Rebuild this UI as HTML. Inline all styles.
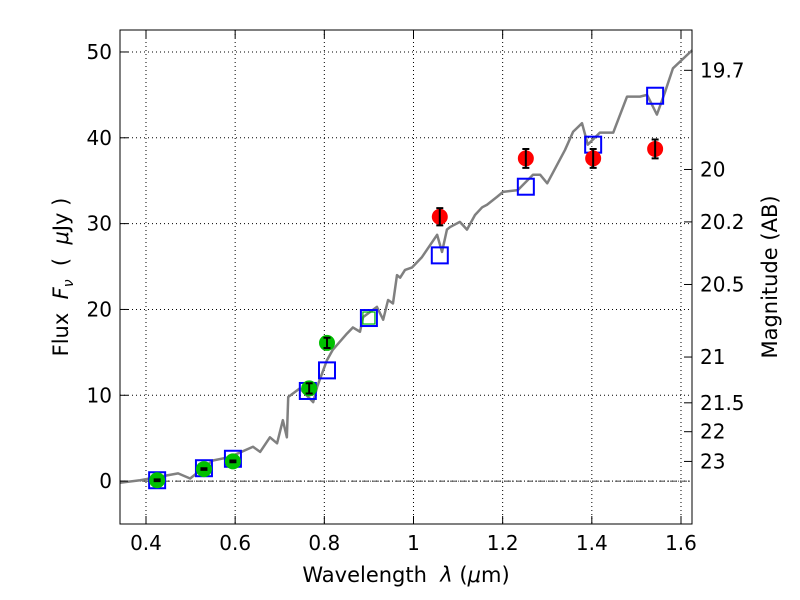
<!DOCTYPE html>
<html><head><meta charset="utf-8"><style>
body{margin:0;background:#fff}
svg{display:block;font-family:"DejaVu Sans","Liberation Sans",sans-serif}
</style></head><body>
<svg id="chart" width="800" height="600">
<rect width="800" height="600" fill="#fff"/>
<g id="grid"></g><g id="marks"></g><g id="axes"></g>
<text x="406" y="582" font-size="21" text-anchor="middle">Wavelength&#160;&#160;<tspan font-style="italic">λ</tspan> (<tspan font-style="italic">μ</tspan>m)</text>
<text transform="translate(68,277) rotate(-90)" font-size="21" text-anchor="middle">Flux&#160;&#160;<tspan font-style="italic">F</tspan><tspan font-style="italic" font-size="14" dy="5">ν</tspan><tspan dy="-5">&#160;&#160;(&#160;&#160;</tspan><tspan font-style="italic">μ</tspan>Jy )</text>
<text transform="translate(777,277) rotate(-90)" font-size="21" text-anchor="middle">Magnitude (AB)</text>
</svg>
<script>
const specWl=[0.342,0.387,0.472,0.499,0.550,0.588,0.640,0.656,0.678,0.694,0.707,0.716,0.719,0.745,0.775,0.784,0.806,0.819,0.851,0.864,0.880,0.887,0.918,0.932,0.943,0.954,0.963,0.970,0.981,0.997,1.019,1.053,1.064,1.075,1.082,1.104,1.120,1.138,1.154,1.165,1.187,1.201,1.234,1.268,1.284,1.300,1.340,1.358,1.378,1.391,1.418,1.448,1.479,1.508,1.524,1.546,1.564,1.582,1.625];
const specFlux=[-0.2,0.1,0.9,0.3,2.4,2.8,4.0,3.4,5.1,4.4,7.1,5.1,9.8,10.8,9.2,11.0,14.1,15.3,17.2,17.9,17.4,19.1,20.3,18.8,21.1,20.7,24.0,23.7,24.6,24.9,26.1,28.7,26.7,29.3,29.6,30.2,29.3,31.0,31.9,32.2,33.1,33.7,33.9,35.7,35.7,34.7,38.6,40.7,41.7,39.2,40.6,40.6,44.8,44.8,45.0,42.7,45.3,48.1,50.2];
const greenWl=[0.425,0.530,0.595,0.766,0.806];
const greenFlux=[0.1,1.4,2.3,10.8,16.1];
const greenErr=[0.1,0.1,0.1,0.6,0.6];
const redWl=[1.059,1.252,1.403,1.542];
const redFlux=[30.8,37.6,37.6,38.7];
const redErr=[1.0,1.1,1.1,1.1];
const modelWl=[0.425,0.530,0.595,0.763,0.806,0.900,1.059,1.252,1.403,1.542];
const modelFlux=[0.1,1.5,2.6,10.5,12.9,19.0,26.3,34.3,39.2,44.9];
const xTicks=[0.4,0.6,0.8,1.0,1.2,1.4,1.6];
const xTickLabels=["0.4","0.6","0.8","1","1.2","1.4","1.6"];
const yTicks=[0,10,20,30,40,50];
const magTicks=[19.7,20,20.2,20.5,21,21.5,22,23];
const magLabels=["19.7","20","20.2","20.5","21","21.5","22","23"];

const L=120,R=692,T=30,B=524;
const x0=0.3417,x1=1.6247,y0=-5.0,y1=52.56;
const sx=v=>L+(v-x0)/(x1-x0)*(R-L);
const sy=v=>B-(v-y0)/(y1-y0)*(B-T);
const NS="http://www.w3.org/2000/svg";
function mk(parent,tag,attrs){const e=document.createElementNS(NS,tag);for(const k in attrs)e.setAttribute(k,attrs[k]);parent.appendChild(e);return e;}
const grid=document.getElementById('grid'),marks=document.getElementById('marks'),axes=document.getElementById('axes');

xTicks.forEach(t=>{const g=mk(grid,'line',{x1:sx(t),x2:sx(t),y1:T,y2:B,stroke:'#000','stroke-width':1,'stroke-dasharray':'1,3'});

});
yTicks.forEach(t=>{const g=mk(grid,'line',{x1:L,x2:R,y1:sy(t),y2:sy(t),stroke:'#000','stroke-width':1,'stroke-dasharray':'1,3'});

});
const zl=mk(grid,'line',{x1:L,x2:R,y1:sy(0),y2:sy(0),stroke:'#000','stroke-width':0.8,'stroke-dasharray':'6,2,1,2'});



const sp=mk(marks,'polyline',{points:specWl.map((w,i)=>sx(w)+','+sy(specFlux[i])).join(' '),fill:'none',stroke:'#808080','stroke-width':2.5,'stroke-linejoin':'round'});



modelWl.forEach((w,i)=>{const r=mk(marks,'rect',{x:sx(w)-8,y:sy(modelFlux[i])-8,width:16,height:16,fill:'none',stroke:'#0000ff','stroke-width':2});

});
const gs=mk(marks,'rect',{x:sx(modelWl[5])-6,y:sy(modelFlux[5])-6,width:12,height:12,fill:'none',stroke:'#00bb00','stroke-width':1.2});



function pts(wl,fl,er,col,name){wl.forEach((w,i)=>{const cx=sx(w),cy=sy(fl[i]);
 const c=mk(marks,'circle',{cx:cx,cy:cy,r:8,fill:col});
 
 
 const ya=sy(fl[i]+er[i]),yb=sy(fl[i]-er[i]);
 const e=mk(marks,'path',{d:`M${cx},${ya}V${yb}M${cx-3.5},${ya}H${cx+3.5}M${cx-3.5},${yb}H${cx+3.5}`,stroke:'#000','stroke-width':2,fill:'none'});
 
 });}
pts(greenWl,greenFlux,greenErr,'#00c000','optical-flux-point');
pts(redWl,redFlux,redErr,'#ff0000','nir-flux-point');

const fr=mk(axes,'rect',{x:L,y:T,width:R-L,height:B-T,fill:'none',stroke:'#000','stroke-width':1});


xTicks.forEach((t,i)=>{mk(axes,'line',{x1:sx(t),x2:sx(t),y1:B,y2:B-8,stroke:'#000'});mk(axes,'line',{x1:sx(t),x2:sx(t),y1:T,y2:T+8,stroke:'#000'});
 const tx=mk(axes,'text',{x:sx(t),y:B+26,'font-size':20,'text-anchor':'middle'});tx.textContent=xTickLabels[i];
 
 });
yTicks.forEach(t=>{mk(axes,'line',{x1:L,x2:L+8,y1:sy(t),y2:sy(t),stroke:'#000'});
 const tx=mk(axes,'text',{x:L-8,y:sy(t)+7,'font-size':20,'text-anchor':'end'});tx.textContent=t;
 
 });
magTicks.forEach((m,i)=>{const f=Math.pow(10,(23.9-m)/2.5);const y=sy(f);
 mk(axes,'line',{x1:R,x2:R-8,y1:y,y2:y,stroke:'#000'});
 const tx=mk(axes,'text',{x:R+8,y:y+7,'font-size':20});tx.textContent=magLabels[i];
 
 });
</script>
</body></html>
